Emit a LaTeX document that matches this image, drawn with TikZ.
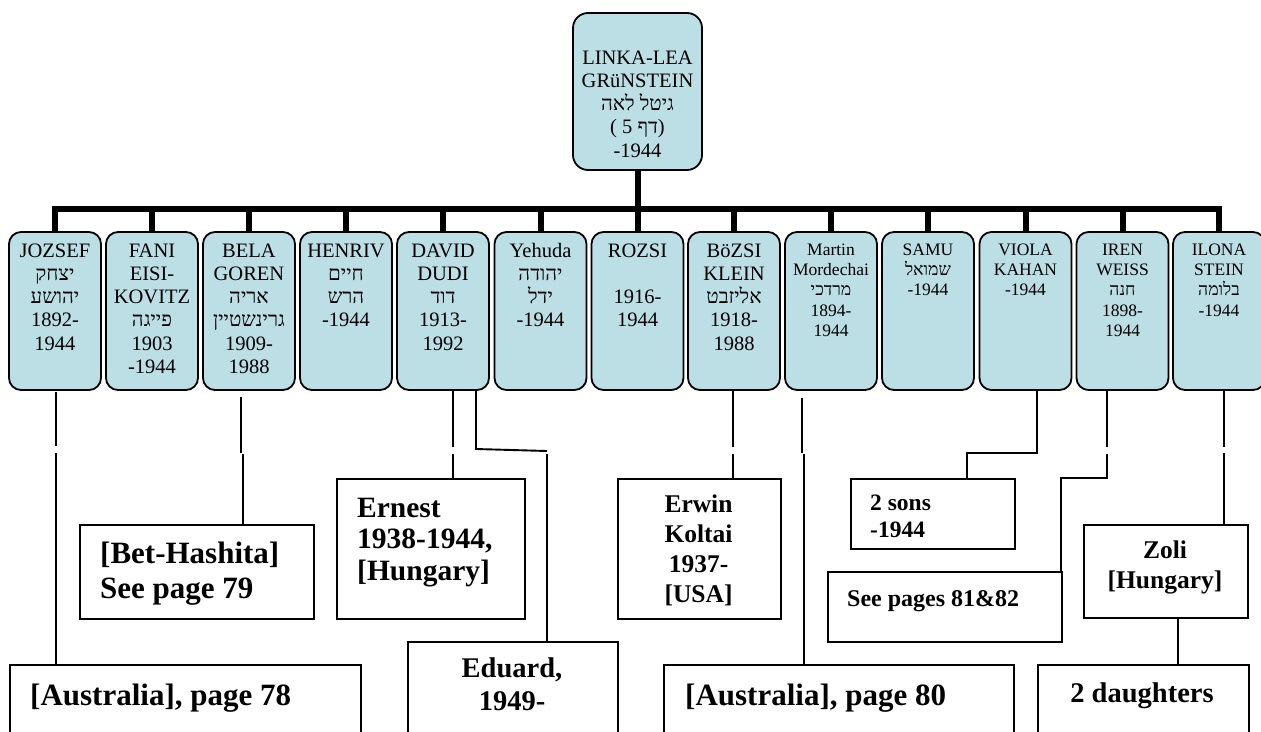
\documentclass[tikz,border=0pt]{standalone}
\usepackage{fontspec}
\setmainfont{Liberation Serif}
\newfontfamily\hebfont[Script=Hebrew]{Liberation Serif}
\TeXXeTstate=1
\newcommand{\hb}[1]{{\hebfont\beginR #1\endR}}
\definecolor{kidfill}{RGB}{188,222,229}
\begin{document}
\begin{tikzpicture}[x=1pt,y=-1pt,
  kidbox/.style={draw=black, line width=1.8pt, fill=kidfill, rounded corners=12pt,
    minimum width=92pt, minimum height=158pt, inner sep=0pt},
  rootbox/.style={kidbox, rounded corners=15pt, minimum width=129pt, minimum height=157pt},
  bigtxt/.style={anchor=base, align=center, inner sep=0pt, font=\fontsize{20.5}{23.3}\selectfont},
  smalltxt/.style={anchor=base, align=center, inner sep=0pt, font=\fontsize{17.5}{20.4}\selectfont},
  barline/.style={line width=6pt},
  conn/.style={line width=1.9pt},
  obox/.style={draw=black, line width=1.9pt, inner sep=0pt, anchor=north west},
  btxt/.style={inner sep=0pt},
  bA/.style={btxt, font=\bfseries\fontsize{31}{35}\selectfont},
  bB/.style={btxt, font=\bfseries\fontsize{29.5}{31.5}\selectfont},
  bC/.style={btxt, font=\bfseries\fontsize{28.5}{33}\selectfont},
  bD/.style={btxt, font=\bfseries\fontsize{25.5}{30}\selectfont},
  bE/.style={btxt, font=\bfseries\fontsize{23.5}{27}\selectfont}
]
\useasboundingbox (0,0) rectangle (1261,731);
\clip (0,0) rectangle (1261,731);

% root (text nodes are anchored at the baseline of their last line)
\node[rootbox] (root) at (637.5,91.5) {};
\node[bigtxt] (troot) at (637.5,157.2)
  {LINKA-LEA\\GRüNSTEIN\\\hb{גיטל לאה}\\( 5 \hb{דף})\\-1944};

% children
\node[kidbox] (k1) at (55,311) {};
\node[kidbox] (k2) at (152,311) {};
\node[kidbox] (k3) at (249,311) {};
\node[kidbox] (k4) at (346,311) {};
\node[kidbox] (k5) at (443,311) {};
\node[kidbox] (k6) at (540.5,311) {};
\node[kidbox] (k7) at (637.5,311) {};
\node[kidbox] (k8) at (734,311) {};
\node[kidbox] (k9) at (831,311) {};
\node[kidbox] (k10) at (928,311) {};
\node[kidbox] (k11) at (1025.5,311) {};
\node[kidbox] (k12) at (1122.5,311) {};
\node[kidbox] (k13) at (1219,311) {};

\node[bigtxt] (t1) at (55,350.2) {JOZSEF\\\hb{יצחק}\\\hb{יהושע}\\1892-\\1944};
\node[bigtxt] (t2) at (152,373.5) {FANI\\EISI-\\KOVITZ\\\hb{פייגה}\\1903\\-1944};
\node[bigtxt] (t3) at (249,373.5) {BELA\\GOREN\\\hb{אריה}\\\hb{גרינשטיין}\\1909-\\1988};
\node[bigtxt] (t4) at (346,326.9) {HENRIV\\\hb{חיים}\\\hb{הרש}\\-1944};
\node[bigtxt] (t5) at (443,350.2) {DAVID\\DUDI\\\hb{דוד}\\1913-\\1992};
\node[bigtxt] (t6) at (540.5,326.9) {Yehuda\\\hb{יהודה}\\\hb{ידל}\\-1944};
\node[bigtxt] (t7) at (637.5,326.9) {ROZSI\\~\\1916-\\1944};
\node[bigtxt] (t8) at (734,350.2) {BöZSI\\KLEIN\\\hb{אליזבט}\\1918-\\1988};
\node[smalltxt] (t9) at (831,336.6) {Martin\\Mordechai\\\hb{מרדכי}\\1894-\\1944};
\node[smalltxt] (t10) at (928,295.8) {SAMU\\\hb{שמואל}\\-1944};
\node[smalltxt] (t11) at (1025.5,295.8) {VIOLA\\KAHAN\\-1944};
\node[smalltxt] (t12) at (1122.5,336.6) {IREN\\WEISS\\\hb{חנה}\\1898-\\1944};
\node[smalltxt] (t13) at (1219,316.2) {ILONA\\STEIN\\\hb{בלומה}\\-1944};

% thick tree bar
\coordinate (barY) at (637.5,209);
\draw[barline] (root.south) -- (root.south |- barY);
\draw[barline] (k1.north) -- (k1.north |- barY) -- (k13.north |- barY) -- (k13.north);
\foreach \k in {k2,k3,k4,k5,k6,k7,k8,k9,k10,k11,k12}
  \draw[barline] (\k.north) -- (\k.north |- barY);

% lower boxes
\node[obox, minimum width=351pt, minimum height=80pt] (aus78) at (9,664) {};
\node[obox, minimum width=234pt, minimum height=94pt] (bet) at (79,524) {};
\node[obox, minimum width=188pt, minimum height=140pt] (ernest) at (336,478) {};
\node[obox, minimum width=210pt, minimum height=99pt] (eduard) at (407,641) {};
\node[obox, minimum width=163pt, minimum height=140pt] (erwin) at (617,478) {};
\node[obox, minimum width=350pt, minimum height=80pt] (aus80) at (663,664) {};
\node[obox, minimum width=164pt, minimum height=70pt] (sons) at (850,478) {};
\node[obox, minimum width=234pt, minimum height=70pt] (seep) at (827,571) {};
\node[obox, minimum width=164pt, minimum height=93pt] (zoli) at (1083,524) {};
\node[obox, minimum width=211pt, minimum height=80pt] (daught) at (1037,664) {};

% texts of lower boxes (anchored at the baseline of the last line)
\node[bA, anchor=base west] (taus78) at (30,705) {[Australia], page 78};
\node[bA, anchor=base west, align=left] (tbet) at (100,598) {[Bet-Hashita]\\See page 79};
\node[bB, anchor=base west, align=left] (ternest) at (357,580) {Ernest\\1938-1944,\\\relax[Hungary]};
\node[bC, anchor=base, align=center] (teduard) at (512,710) {Eduard,\\1949-};
\node[bD, anchor=base, align=center] (terwin) at (698.5,602) {Erwin\\Koltai\\1937-\\\relax[USA]};
\node[bA, anchor=base west] (taus80) at (685,705) {[Australia], page 80};
\node[bE, anchor=base west, align=left] (tsons) at (870,537) {2 sons\\-1944};
\node[bE, font=\bfseries\fontsize{24}{27}\selectfont, anchor=base west] (tseep) at (847,606) {See pages 81\&82};
\node[bD, anchor=base, align=center] (tzoli) at (1165,588) {Zoli\\\relax[Hungary]};
\node[bC, anchor=base] (tdaught) at (1142,702) {2 daughters};

% thin connectors
\draw[conn] (56,392) -- (56,446) (56,453) -- (aus78.north -| 56,0);
\draw[conn] (241,397) -- (241,453) (243,454) -- (bet.north -| 243,0);
\draw[conn] (k5.south -| 453,0) -- (453,447) (453,454) -- (ernest.north -| 453,0);
\draw[conn] (k5.south -| 476,0) -- (476,449) -- (547,451) (547,454) -- (eduard.north -| 547,0);
\draw[conn] (k8.south -| 733,0) -- (733,447) (733,454) -- (erwin.north -| 733,0);
\draw[conn] (802,398) -- (802,453) (804,454) -- (aus80.north -| 804,0);
\draw[conn] (k11.south -| 1037,0) -- (1037,453) -| (sons.north -| 967,0);
\draw[conn] (k12.south -| 1107,0) -- (1107,447) (1107,454) -- (1107,478) -- (1061,478) -- (seep.north -| 1061,0);
\draw[conn] (k13.south -| 1224,0) -- (1224,447) (1224,453) -- (zoli.north -| 1224,0);
\draw[conn] (zoli.south -| 1178,0) -- (daught.north -| 1178,0);
\end{tikzpicture}
\end{document}
